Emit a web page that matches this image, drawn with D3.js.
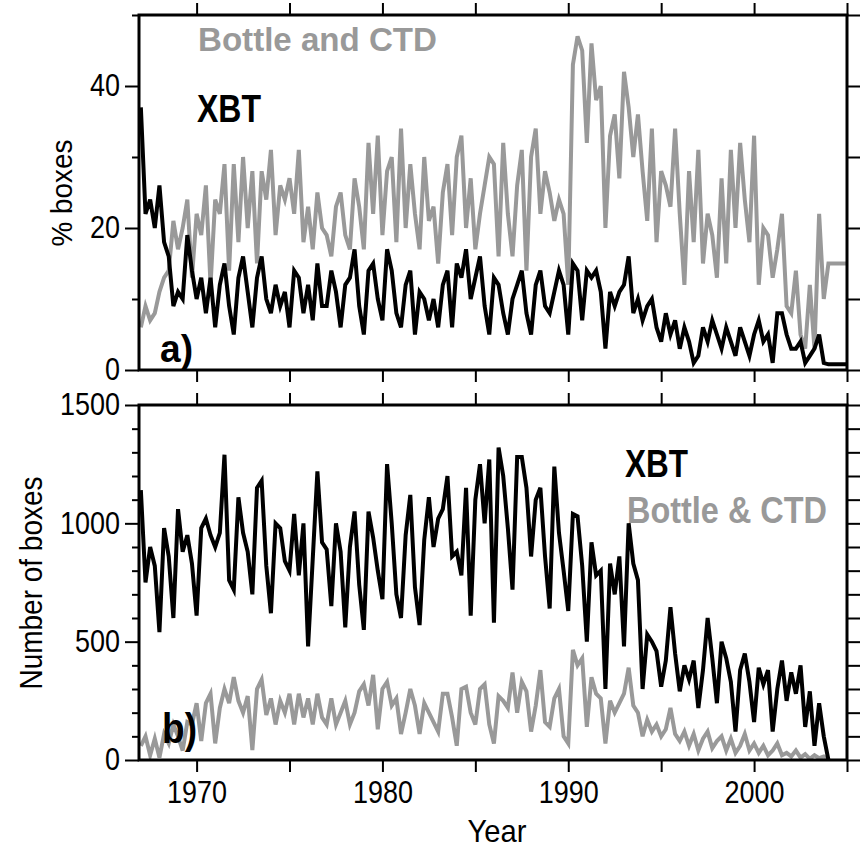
<!DOCTYPE html>
<meta charset="utf-8">
<script src="https://d3js.org/d3.v7.min.js"></script>
<style>
  body { margin: 0; background: #fff; }
  text { font-family: "Liberation Sans", Arial, Helvetica, sans-serif; }
</style>
<div id="chart"></div>
<script>

// quarterly samples, the first one at 1967.0 (one row per year)
var startYear = 1967, step = 0.25;

// a) percentage of boxes sampled (runs flat to 2005)
var pctXbt = [
  37, 22, 24, 20,
  26, 18, 16, 9,
  11, 10, 19, 14,
  10, 13, 8, 13,
  6, 12, 15, 9,
  5, 13, 16, 11,
  6, 13, 16, 10,
  8, 12, 9, 11,
  6, 14, 13, 8,
  12, 7, 15, 9,
  9, 14, 11, 6,
  12, 13, 17, 9,
  5, 14, 15, 10,
  7, 17, 14, 8,
  6, 12, 14, 5,
  11, 10, 7, 10,
  6, 12, 14, 6,
  15, 13, 17, 10,
  13, 16, 9, 5,
  13, 12, 8, 5,
  10, 12, 14, 8,
  5, 12, 14, 9,
  8, 11, 14, 12,
  5, 15, 14, 7,
  14, 13, 14, 11,
  3, 11, 9, 11,
  12, 16, 8, 10,
  7, 9, 10, 6,
  4, 8, 5, 7,
  3, 6, 4, 1,
  2, 6, 4, 7,
  5, 3, 6, 4,
  2, 6, 4, 2,
  5, 7, 4, 5,
  1, 8, 8, 5,
  3, 3, 4, 1,
  2, 3, 5, 1,
  0.8, 0.8, 0.8, 0.8, 0.8
];
var pctBottle = [
  6, 9, 7, 8,
  11, 13, 14, 21,
  17, 20, 24, 13,
  22, 19, 26, 12,
  24, 22, 29, 14,
  29, 18, 30, 20,
  28, 15, 28, 24,
  31, 19, 26, 24,
  27, 22, 31, 18,
  23, 17, 25, 20,
  19, 16, 23, 25,
  19, 17, 27, 23,
  17, 32, 22, 33,
  19, 28, 30, 18,
  34, 20, 29, 22,
  17, 30, 21, 23,
  15, 25, 29, 19,
  30, 33, 20, 27,
  17, 22, 26, 30,
  29, 16, 32, 22,
  16, 26, 31, 14,
  30, 34, 22, 28,
  25, 21, 24, 22,
  12, 43, 47, 45,
  32, 46, 38, 40,
  20, 33, 36, 27,
  42, 37, 30, 36,
  28, 21, 34, 18,
  28, 26, 23, 34,
  22, 12, 28, 18,
  31, 15, 22, 19,
  13, 27, 15, 31,
  20, 32, 24, 18,
  33, 12, 20, 19,
  13, 17, 22, 9,
  8, 14, 5, 3,
  12, 3, 22, 10,
  15, 15, 15, 15, 15
];

// b) number of boxes sampled
var numXbt = [
  1140, 750, 900, 820,
  540, 980, 860, 600,
  1060, 880, 950, 830,
  610, 980, 1020, 950,
  900, 960, 1290, 760,
  720, 1110, 960, 880,
  700, 1150, 1180, 820,
  620, 1000, 980, 840,
  800, 1040, 780, 1000,
  480, 850, 1220, 920,
  890, 650, 1000, 880,
  560, 900, 1050, 740,
  550, 1050, 940, 800,
  680, 1250, 1000, 700,
  600, 950, 1120, 730,
  570, 930, 1110, 900,
  1020, 1060, 1200, 860,
  880, 780, 1150, 610,
  1100, 1250, 1000, 1270,
  580, 1320, 1200, 980,
  720, 1280, 1280, 1150,
  860, 1100, 1150, 860,
  640, 1240, 960, 800,
  630, 1040, 1030, 820,
  500, 920, 780, 800,
  300, 830, 700, 860,
  480, 1000, 830, 760,
  300, 530, 500, 460,
  310, 420, 646, 450,
  290, 400, 340, 420,
  220, 380, 600, 430,
  240, 500, 430, 330,
  120, 380, 450, 330,
  160, 390, 320, 380,
  120, 300, 420, 250,
  370, 280, 400, 140,
  290, 60, 240, 100,
  0
];
var numBottle = [
  60, 100, 20, 90,
  10, 110, 70, 150,
  100, 40, 160, 150,
  240, 80, 240, 280,
  70, 220, 300, 240,
  350, 250, 200, 270,
  42, 300, 340, 190,
  260, 150, 250, 200,
  280, 150, 280, 180,
  260, 150, 280, 180,
  150, 260, 150, 200,
  250, 150, 200, 290,
  320, 230, 360, 130,
  300, 330, 230, 260,
  110, 200, 300, 230,
  110, 240, 200, 160,
  120, 280, 280, 180,
  60, 300, 310, 200,
  150, 300, 320, 150,
  70, 270, 250, 220,
  370, 200, 330, 290,
  120, 230, 380, 160,
  140, 260, 300, 100,
  70, 465, 400, 430,
  140, 350, 280, 260,
  70, 250, 200, 240,
  280, 390, 230, 200,
  100, 170, 120, 150,
  100, 130, 220, 110,
  80, 120, 60, 110,
  40, 90, 120, 50,
  80, 100, 40, 90,
  30, 60, 110, 40,
  70, 30, 60, 20,
  40, 70, 20, 30,
  15, 40, 10, 25,
  5, 20, 8, 15,
  0
];

var pctMajor = [0, 20, 40], pctMinor = [10, 30, 50], pctAll = [0, 10, 20, 30, 40, 50];
var numMajor = [0, 500, 1000, 1500];
var numAll = d3.range(0, 1501, 100);
var yearTicks = [1970, 1975, 1980, 1985, 1990, 1995, 2000, 2005];
var yearLabels = [1970, 1980, 1990, 2000];

var grey = "#999999";
var left = 139, right = 847;

var svg = d3.select("#chart")
  .append("svg")
    .attr("width", 866)
    .attr("height", 850);

var x = d3.scaleLinear().domain([1966.9, 2005]).range([left, right]);
var yA = d3.scaleLinear().domain([0, 50]).range([370, 15]);
var yB = d3.scaleLinear().domain([0, 1500]).range([760, 405]);

function yearOf(i) { return startYear + i * step; }

function styleAxis(g) {
  g.attr("font-family", null).attr("font-size", null);
  g.select(".domain").remove();
  g.selectAll("line").attr("stroke", "#000").attr("stroke-width", 2);
}

function panel(id, y, lines, major, minor, rightTicks, withYears) {
  var top = y.range()[1], bottom = y.range()[0];

  svg.append("clipPath").attr("id", id)
    .append("rect")
      .attr("x", left).attr("y", top)
      .attr("width", right - left).attr("height", bottom - top);

  lines.forEach(function(s) {
    var line = d3.line()
      .x(function(d, i) { return x(yearOf(i)); })
      .y(function(d) { return y(d); });
    svg.append("path")
      .datum(s.values)
      .attr("clip-path", "url(#" + id + ")")
      .attr("fill", "none")
      .attr("stroke", s.color)
      .attr("stroke-width", 4)
      .attr("d", line);
  });

  // left axis: labelled major ticks + short minor ticks
  svg.append("g")
    .attr("transform", "translate(" + left + ",0)")
    .call(d3.axisLeft(y).tickValues(major).tickSize(14).tickPadding(5).tickFormat(d3.format("d")))
    .call(styleAxis)
    .selectAll("text")
      .attr("font-size", 31)
      .attr("textLength", function(d) { return String(d).length * 15; })
      .attr("lengthAdjust", "spacingAndGlyphs");
  svg.append("g")
    .attr("transform", "translate(" + left + ",0)")
    .call(d3.axisLeft(y).tickValues(minor).tickSize(7).tickFormat(""))
    .call(styleAxis);

  // right axis, ticks only
  svg.append("g")
    .attr("transform", "translate(" + right + ",0)")
    .call(d3.axisRight(y).tickValues(rightTicks).tickSize(13).tickFormat(""))
    .call(styleAxis);

  // year ticks on top and bottom edges
  svg.append("g")
    .attr("transform", "translate(0," + top + ")")
    .call(d3.axisTop(x).tickValues(yearTicks).tickSize(12).tickFormat(""))
    .call(styleAxis);
  var isLabel = function(d) { return withYears && yearLabels.indexOf(d) >= 0; };
  var gb = svg.append("g")
    .attr("transform", "translate(0," + bottom + ")")
    .call(d3.axisBottom(x).tickValues(yearTicks).tickSize(12)
      .tickFormat(function(d) { return isLabel(d) ? d : ""; }))
    .call(styleAxis);
  gb.selectAll("text")
    .attr("y", 43).attr("dy", 0)
    .attr("font-size", 32)
    .filter(isLabel)
      .attr("textLength", 60)
      .attr("lengthAdjust", "spacingAndGlyphs");

  svg.append("rect")
    .attr("x", left).attr("y", top)
    .attr("width", right - left).attr("height", bottom - top)
    .attr("fill", "none")
    .attr("stroke", "#000")
    .attr("stroke-width", 3);
}

panel("clipA", yA,
  [{values: pctBottle, color: grey}, {values: pctXbt, color: "#000"}],
  pctMajor, pctMinor, pctAll, false);
panel("clipB", yB,
  [{values: numBottle, color: grey}, {values: numXbt, color: "#000"}],
  numMajor, numAll.filter(function(v) { return v % 500 !== 0; }), numAll, true);

function label(txt, px, py, size, len, opts) {
  opts = opts || {};
  var t = svg.append("text")
    .attr("x", px).attr("y", py)
    .attr("font-size", size)
    .attr("font-weight", opts.bold ? "bold" : "normal")
    .attr("fill", opts.color || "#000")
    .attr("text-anchor", opts.anchor || "start")
    .attr("textLength", len)
    .attr("lengthAdjust", "spacingAndGlyphs")
    .text(txt);
  if (opts.rotate) t.attr("x", 0).attr("y", 0)
    .attr("transform", "translate(" + px + "," + py + ") rotate(-90)");
  return t;
}

// panel a) annotations
label("Bottle and CTD", 198, 51, 33, 239, {bold: true, color: grey});
label("XBT", 197, 122, 38, 64, {bold: true});
label("a)", 160, 362, 38, 33, {bold: true});
// panel b) annotations
label("XBT", 625, 477, 38, 63, {bold: true});
label("Bottle & CTD", 627, 523, 36, 200, {bold: true, color: grey});
label("b)", 162, 743, 42, 35, {bold: true});

// axis titles
label("% boxes", 72, 193, 30, 107, {anchor: "middle", rotate: true});
label("Number of boxes", 42, 583, 31, 213, {anchor: "middle", rotate: true});
label("Year", 497, 842, 32, 59, {anchor: "middle"});

</script>
